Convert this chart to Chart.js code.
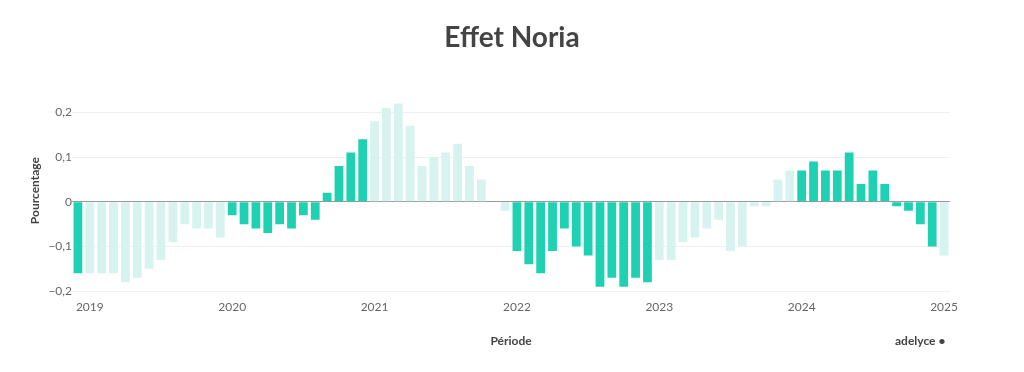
<!DOCTYPE html>
<html>
<head>
<meta charset="utf-8">
<script src="https://cdn.jsdelivr.net/npm/chart.js@4/dist/chart.umd.min.js"></script>
<style>
  html, body { margin: 0; padding: 0; background: #fff; }
  #wrap { position: relative; width: 1024px; height: 372px; }
  #title { position: absolute; left: 0; width: 1024px; top: 19px; text-align: center; font: bold 28px Lato, sans-serif; color: #444; line-height: 34px; }
  #brand { position: absolute; left: 895px; top: 333px; font: bold 12px Lato, sans-serif; color: #444; }
</style>
</head>
<body>
<div id="wrap">
  <canvas id="c" width="1024" height="372"></canvas>
  <div id="title">Effet Noria</div>
  <div id="brand">adelyce •</div>
</div>
<script>
// Monthly periods from Dec 2018 to Jan 2025
const startYear = 2018, startMonth = 12, nMonths = 74;
const periods = [];
for (let i = 0; i < nMonths; i++) {
  const m0 = startMonth - 1 + i;
  const y = startYear + Math.floor(m0 / 12);
  const m = (m0 % 12) + 1;
  periods.push(y + '-' + String(m).padStart(2, '0'));
}

// Effet Noria values
const values = [
  -0.16,
  -0.16, -0.16, -0.16, -0.18, -0.17, -0.15, -0.13, -0.09, -0.05, -0.06, -0.06, -0.08,
  -0.03, -0.05, -0.06, -0.07, -0.05, -0.06, -0.03, -0.04, 0.02, 0.08, 0.11, 0.14,
  0.18, 0.21, 0.22, 0.17, 0.08, 0.10, 0.11, 0.13, 0.08, 0.05, 0.00, -0.02,
  -0.11, -0.14, -0.16, -0.11, -0.06, -0.10, -0.12, -0.19, -0.17, -0.19, -0.17, -0.18,
  -0.13, -0.13, -0.09, -0.08, -0.06, -0.04, -0.11, -0.10, -0.01, -0.01, 0.05, 0.07,
  0.07, 0.09, 0.07, 0.07, 0.11, 0.04, 0.07, 0.04, -0.01, -0.02, -0.05, -0.10,
  -0.12
];

// Highlighted bars (dark) vs. faded bars
const highlighted = [
  1,
  0,0,0,0,0,0,0,0,0,0,0,0,
  1,1,1,1,1,1,1,1,1,1,1,1,
  0,0,0,0,0,0,0,0,0,0,0,0,
  1,1,1,1,1,1,1,1,1,1,1,1,
  0,0,0,0,0,0,0,0,0,0,0,0,
  1,1,1,1,1,1,1,1,1,1,1,1,
  0
];

const yTickValues = [-0.2, -0.1, 0, 0.1, 0.2];
const yTickLabels = ['−0,2', '−0,1', '0', '0,1', '0,2'];

const DARK = '#1fd1b3';
const LIGHT = '#d7f3ef';

new Chart(document.getElementById('c'), {
  type: 'bar',
  data: {
    labels: periods,
    datasets: [{
      label: 'Effet Noria',
      data: values,
      backgroundColor: highlighted.map(h => h ? DARK : LIGHT),
      barPercentage: 0.74,
      categoryPercentage: 1.0,
      borderWidth: 0
    }]
  },
  options: {
    responsive: false,
    animation: false,
    layout: { padding: { left: 28, right: 74, top: 90, bottom: 24 } },
    plugins: {
      legend: { display: false },
      tooltip: { enabled: false },
      title: { display: false }
    },
    scales: {
      x: {
        offset: true,
        grid: { display: false, drawTicks: false },
        border: { display: false },
        ticks: {
          autoSkip: false,
          maxRotation: 0,
          color: '#666',
          padding: 9,
          font: { family: 'Lato', size: 12 },
          callback: function (v, i) {
            const p = periods[i];
            return p.endsWith('-01') ? p.slice(0, 4) : '';
          }
        },
        title: {
          display: true,
          text: 'Période',
          color: '#444',
          font: { family: 'Lato', size: 12, weight: 'bold' },
          padding: { top: 10, bottom: 0 }
        }
      },
      y: {
        min: -0.2,
        max: 0.25,
        afterBuildTicks: (scale) => {
          scale.ticks = yTickValues.map(v => ({ value: v }));
        },
        grid: {
          drawTicks: false,
          color: (ctx) => (ctx.tick && ctx.tick.value === 0) ? '#9a9a9a' : '#f0f0f0',
          lineWidth: 1
        },
        border: { display: false },
        ticks: {
          color: '#666',
          padding: 0,
          font: { family: 'Lato', size: 12 },
          callback: function (v) {
            const i = yTickValues.findIndex(t => Math.abs(t - v) < 1e-9);
            return i >= 0 ? yTickLabels[i] : '';
          }
        },
        title: {
          display: true,
          text: 'Pourcentage',
          color: '#444',
          font: { family: 'Lato', size: 12, weight: 'bold' },
          padding: { top: 0, bottom: 6 }
        }
      }
    }
  }
});
</script>
</body>
</html>
